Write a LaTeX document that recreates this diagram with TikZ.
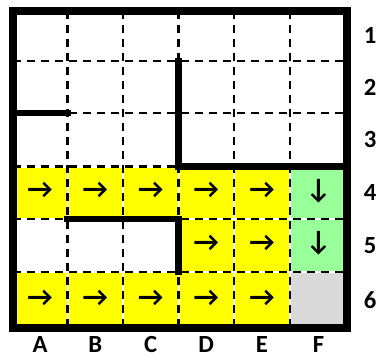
\documentclass[tikz,border=0pt]{standalone}
\usepackage{fontspec}
\setmainfont{Carlito}
\usetikzlibrary{calc}

\definecolor{pathyellow}{HTML}{FFFF00}
\definecolor{pathgreen}{HTML}{99FF99}
\definecolor{goalgray}{HTML}{D9D9D9}

\tikzset{
  gridline/.style={line width=2.2pt, dash pattern=on 6pt off 4.5pt},
  wall/.style={line width=4.6pt, line join=miter, line cap=rect},
  border/.style={line width=6pt, line join=miter},
  lbl/.style={font=\bfseries\fontsize{18.5}{20}\selectfont, inner sep=0pt},
  arr/.style={font=\bfseries\fontsize{21}{23}\selectfont, inner sep=0pt}
}

\begin{document}
\begin{tikzpicture}[x=0.75pt, y=-0.75pt]
  \useasboundingbox (0,0) rectangle (377,358);
  % grid corners g-i-j, i = column edge, j = row edge
  \def\colx{{12.5,67.5,123,178.5,234,290,347}}
  \def\rowy{{10.5,61,113,166.5,219,272,328}}
  \foreach \i in {0,...,6} {
    \foreach \j in {0,...,6} {
      \pgfmathsetmacro{\gx}{\colx[\i]}
      \pgfmathsetmacro{\gy}{\rowy[\j]}
      \coordinate (g-\i-\j) at (\gx,\gy);
    }
  }

  % coloured cells
  \foreach \i/\j/\c in {0/3/pathyellow,1/3/pathyellow,2/3/pathyellow,3/3/pathyellow,4/3/pathyellow,
                        3/4/pathyellow,4/4/pathyellow,
                        0/5/pathyellow,1/5/pathyellow,2/5/pathyellow,3/5/pathyellow,4/5/pathyellow,
                        5/3/pathgreen,5/4/pathgreen,5/5/goalgray} {
    \pgfmathtruncatemacro{\ii}{\i+1}
    \pgfmathtruncatemacro{\jj}{\j+1}
    \fill[\c] ($(g-\i-\j)+(1,1)$) rectangle ($(g-\ii-\jj)+(-1,-1)$);
  }

  % dashed grid
  \foreach \k in {1,...,5} {
    \draw[gridline] (g-\k-0) -- (g-\k-6);
    \draw[gridline] (g-0-\k) -- (g-6-\k);
  }

  % walls
  \draw[wall] (g-0-2) -- (g-1-2);
  \draw[wall] (g-3-1) -- (g-3-3) -- (g-6-3);
  \draw[wall] (g-1-4) -- (g-3-4) -- (g-3-5);

  % outer border
  \draw[border] (g-0-0) rectangle (g-6-6);

  % arrows
  \foreach \i/\j/\s in {0/3/→,1/3/→,2/3/→,3/3/→,4/3/→,3/4/→,4/4/→,
                        0/5/→,1/5/→,2/5/→,3/5/→,4/5/→,5/3/↓,5/4/↓} {
    \pgfmathtruncatemacro{\ii}{\i+1}
    \pgfmathtruncatemacro{\jj}{\j+1}
    \node[arr] (a-\i-\j) at ($(g-\i-\j)!0.5!(g-\ii-\jj)+(0,-2)$) {\s};
  }

  % row and column labels
  \foreach \j/\t in {0/1,1/2,2/3,3/4,4/5,5/6} {
    \pgfmathtruncatemacro{\jj}{\j+1}
    \node[lbl] (row-\t) at ($(g-6-\j)!0.5!(g-6-\jj)+(23,0)$) {\t};
  }
  \foreach \i/\t in {0/A,1/B,2/C,3/D,4/E,5/F} {
    \pgfmathtruncatemacro{\ii}{\i+1}
    \node[lbl] (col-\t) at ($(g-\i-6)!0.5!(g-\ii-6)+(0,16)$) {\t};
  }
\end{tikzpicture}
\end{document}
